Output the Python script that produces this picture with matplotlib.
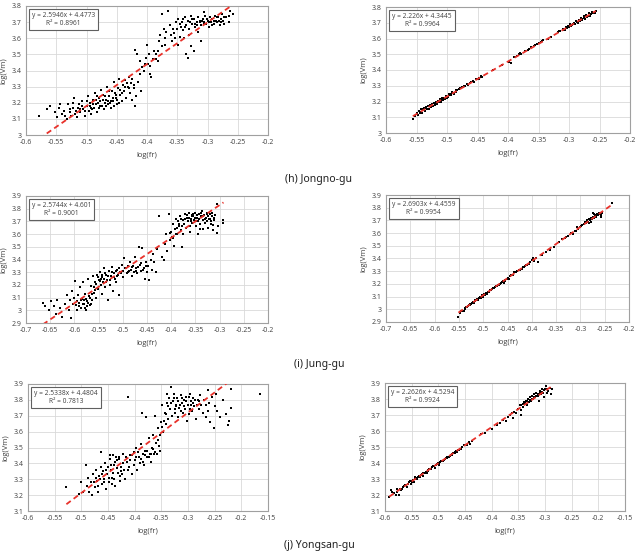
import numpy as np
import matplotlib
matplotlib.use("Agg")
import matplotlib.pyplot as plt

plt.rcParams['font.family'] = ['Open Sans', 'DejaVu Sans']

# (h) Jongno-gu, left panel: scattered points (log(fr), log(Vm))
jongno_a = [
    (-0.578, 3.12), (-0.565, 3.16), (-0.560, 3.18), (-0.552, 3.14), (-0.548, 3.11), (-0.545, 3.17),
    (-0.540, 3.13), (-0.537, 3.15), (-0.533, 3.10), (-0.530, 3.19), (-0.528, 3.14), (-0.525, 3.12),
    (-0.522, 3.17), (-0.520, 3.23), (-0.518, 3.15), (-0.515, 3.11), (-0.512, 3.19), (-0.510, 3.14),
    (-0.508, 3.21), (-0.505, 3.16), (-0.503, 3.12), (-0.500, 3.18), (-0.498, 3.24), (-0.496, 3.15),
    (-0.494, 3.20), (-0.492, 3.13), (-0.490, 3.22), (-0.488, 3.17), (-0.486, 3.26), (-0.484, 3.19),
    (-0.482, 3.14), (-0.480, 3.23), (-0.478, 3.21), (-0.476, 3.28), (-0.474, 3.18), (-0.472, 3.25),
    (-0.470, 3.20), (-0.468, 3.22), (-0.466, 3.30), (-0.464, 3.19), (-0.462, 3.24), (-0.460, 3.17),
    (-0.458, 3.27), (-0.456, 3.21), (-0.454, 3.33), (-0.452, 3.23), (-0.450, 3.19), (-0.448, 3.29),
    (-0.446, 3.35), (-0.444, 3.25), (-0.442, 3.21), (-0.440, 3.31), (-0.438, 3.27), (-0.436, 3.34),
    (-0.434, 3.23), (-0.432, 3.30), (-0.430, 3.36), (-0.428, 3.26), (-0.426, 3.32), (-0.424, 3.22),
    (-0.422, 3.29), (-0.420, 3.18), (-0.418, 3.24), (-0.415, 3.33), (-0.412, 3.38), (-0.410, 3.27),
    (-0.420, 3.53), (-0.416, 3.50), (-0.412, 3.46), (-0.408, 3.42), (-0.405, 3.40), (-0.402, 3.48),
    (-0.400, 3.56), (-0.398, 3.44), (-0.395, 3.38), (-0.393, 3.36), (-0.390, 3.47), (-0.388, 3.52),
    (-0.385, 3.50), (-0.382, 3.46), (-0.380, 3.58), (-0.378, 3.62), (-0.375, 3.55), (-0.372, 3.66),
    (-0.370, 3.60), (-0.375, 3.75), (-0.365, 3.77), (-0.368, 3.64), (-0.362, 3.68), (-0.358, 3.58),
    (-0.355, 3.63), (-0.352, 3.70), (-0.350, 3.66), (-0.348, 3.72), (-0.346, 3.61), (-0.344, 3.67),
    (-0.342, 3.70), (-0.340, 3.65), (-0.338, 3.73), (-0.336, 3.50), (-0.335, 3.68), (-0.333, 3.48),
    (-0.332, 3.71), (-0.330, 3.66), (-0.328, 3.74), (-0.327, 3.55), (-0.325, 3.69), (-0.323, 3.52),
    (-0.322, 3.72), (-0.320, 3.67), (-0.318, 3.70), (-0.316, 3.73), (-0.315, 3.64), (-0.312, 3.71),
    (-0.310, 3.68), (-0.308, 3.72), (-0.306, 3.70), (-0.304, 3.74), (-0.302, 3.69), (-0.300, 3.71),
    (-0.298, 3.67), (-0.296, 3.73), (-0.294, 3.70), (-0.292, 3.72), (-0.290, 3.69), (-0.288, 3.74),
    (-0.286, 3.71), (-0.284, 3.70), (-0.282, 3.73), (-0.280, 3.68), (-0.278, 3.72), (-0.276, 3.75),
    (-0.274, 3.71), (-0.272, 3.69), (-0.270, 3.73), (-0.265, 3.74), (-0.262, 3.77), (-0.258, 3.75),
    (-0.265, 3.70), (-0.310, 3.58), (-0.305, 3.76),
]
jongno_a_dense = [
    (-0.535, 3.12), (-0.527, 3.16), (-0.519, 3.13), (-0.514, 3.17), (-0.507, 3.18), (-0.502, 3.15),
    (-0.499, 3.21), (-0.493, 3.17), (-0.489, 3.19), (-0.485, 3.22), (-0.481, 3.20), (-0.477, 3.18),
    (-0.473, 3.22), (-0.469, 3.24), (-0.465, 3.21), (-0.461, 3.20), (-0.457, 3.23), (-0.453, 3.26),
    (-0.449, 3.22), (-0.445, 3.28), (-0.441, 3.26), (-0.437, 3.30), (-0.433, 3.32), (-0.429, 3.29),
    (-0.425, 3.35), (-0.421, 3.31), (-0.483, 3.24), (-0.479, 3.17), (-0.471, 3.16), (-0.463, 3.27),
    (-0.455, 3.18), (-0.447, 3.20), (-0.495, 3.18), (-0.511, 3.16), (-0.523, 3.20), (-0.543, 3.19),
    (-0.491, 3.16), (-0.467, 3.18), (-0.459, 3.21), (-0.451, 3.25),
    (-0.329, 3.70), (-0.325, 3.72), (-0.321, 3.69), (-0.317, 3.68), (-0.313, 3.70), (-0.309, 3.71),
    (-0.305, 3.69), (-0.301, 3.72), (-0.297, 3.70), (-0.293, 3.68), (-0.289, 3.71), (-0.285, 3.73),
    (-0.281, 3.71), (-0.277, 3.70), (-0.273, 3.73), (-0.345, 3.69), (-0.341, 3.72), (-0.337, 3.67),
    (-0.357, 3.66), (-0.361, 3.62), (-0.353, 3.60), (-0.349, 3.56), (-0.339, 3.60), (-0.331, 3.62),
    (-0.395, 3.43), (-0.403, 3.44), (-0.397, 3.50), (-0.385, 3.47), (-0.381, 3.52), (-0.371, 3.56),
]

# (h) Jongno-gu, right panel
jongno_b = [
    (-0.556, 3.09), (-0.552, 3.11), (-0.550, 3.13), (-0.548, 3.115), (-0.546, 3.14), (-0.545, 3.125),
    (-0.543, 3.15), (-0.541, 3.13), (-0.540, 3.145), (-0.538, 3.16), (-0.536, 3.14), (-0.535, 3.165),
    (-0.533, 3.15), (-0.531, 3.17), (-0.530, 3.155), (-0.528, 3.18), (-0.526, 3.165), (-0.525, 3.185),
    (-0.523, 3.17), (-0.521, 3.19), (-0.520, 3.18), (-0.518, 3.20), (-0.516, 3.185), (-0.515, 3.205),
    (-0.513, 3.195), (-0.511, 3.215), (-0.510, 3.20), (-0.508, 3.22), (-0.506, 3.21), (-0.505, 3.225),
    (-0.503, 3.215), (-0.501, 3.235), (-0.500, 3.225), (-0.497, 3.245), (-0.494, 3.24), (-0.491, 3.26),
    (-0.488, 3.25), (-0.485, 3.27), (-0.480, 3.28), (-0.476, 3.29), (-0.472, 3.30), (-0.468, 3.31),
    (-0.465, 3.305), (-0.462, 3.32), (-0.458, 3.33), (-0.455, 3.325), (-0.452, 3.345), (-0.448, 3.35),
    (-0.445, 3.36), (-0.442, 3.355), (-0.425, 3.40), (-0.410, 3.43), (-0.398, 3.45), (-0.395, 3.445),
    (-0.390, 3.48), (-0.386, 3.49), (-0.382, 3.50), (-0.378, 3.50), (-0.372, 3.52), (-0.368, 3.53),
    (-0.362, 3.545), (-0.358, 3.55), (-0.355, 3.56), (-0.350, 3.57), (-0.346, 3.575), (-0.342, 3.59),
    (-0.335, 3.595), (-0.330, 3.61), (-0.318, 3.64), (-0.314, 3.65), (-0.310, 3.66), (-0.307, 3.655),
    (-0.305, 3.67), (-0.302, 3.68), (-0.300, 3.67), (-0.298, 3.69), (-0.296, 3.68), (-0.294, 3.695),
    (-0.292, 3.70), (-0.290, 3.69), (-0.288, 3.71), (-0.286, 3.70), (-0.284, 3.715), (-0.282, 3.71),
    (-0.280, 3.73), (-0.278, 3.72), (-0.276, 3.74), (-0.274, 3.725), (-0.272, 3.75), (-0.270, 3.735),
    (-0.267, 3.76), (-0.265, 3.745), (-0.262, 3.77), (-0.258, 3.76),
]
jongno_b_dense = [
    (-0.549, 3.12), (-0.544, 3.135), (-0.539, 3.15), (-0.534, 3.16), (-0.529, 3.17), (-0.524, 3.175),
    (-0.519, 3.19), (-0.514, 3.20), (-0.509, 3.21), (-0.504, 3.22), (-0.499, 3.23), (-0.496, 3.24),
    (-0.493, 3.245), (-0.489, 3.255), (-0.486, 3.26), (-0.483, 3.27), (-0.478, 3.285), (-0.474, 3.295),
    (-0.470, 3.30), (-0.460, 3.325), (-0.450, 3.345), (-0.447, 3.345), (-0.444, 3.355), (-0.388, 3.48),
    (-0.380, 3.505), (-0.365, 3.535), (-0.352, 3.565), (-0.344, 3.585), (-0.316, 3.645), (-0.309, 3.655),
    (-0.303, 3.665), (-0.299, 3.68), (-0.295, 3.685), (-0.291, 3.695), (-0.287, 3.705), (-0.283, 3.71),
    (-0.279, 3.725), (-0.275, 3.73), (-0.271, 3.74), (-0.268, 3.745), (-0.264, 3.755), (-0.260, 3.765),
    (-0.256, 3.775),
]

# (i) Jung-gu, left panel
jung_a = [
    (-0.665, 3.06), (-0.660, 3.03), (-0.652, 3.00), (-0.648, 3.07), (-0.642, 3.03), (-0.638, 2.97),
    (-0.635, 3.08), (-0.630, 3.02), (-0.625, 2.95), (-0.620, 3.05), (-0.615, 3.12), (-0.612, 3.00),
    (-0.610, 3.08), (-0.607, 2.94), (-0.605, 3.15), (-0.602, 3.05), (-0.600, 3.10), (-0.598, 3.23),
    (-0.596, 3.04), (-0.594, 3.00), (-0.592, 3.12), (-0.590, 3.06), (-0.588, 3.18), (-0.586, 3.02),
    (-0.584, 3.09), (-0.582, 3.22), (-0.580, 3.05), (-0.578, 3.13), (-0.576, 3.00), (-0.574, 3.07),
    (-0.572, 3.25), (-0.570, 3.11), (-0.568, 3.04), (-0.566, 3.19), (-0.564, 3.08), (-0.562, 3.27),
    (-0.560, 3.14), (-0.558, 3.22), (-0.556, 3.10), (-0.554, 3.28), (-0.552, 3.17), (-0.550, 3.24),
    (-0.548, 3.30), (-0.546, 3.20), (-0.544, 3.13), (-0.542, 3.26), (-0.540, 3.22), (-0.538, 3.33),
    (-0.536, 3.18), (-0.534, 3.28), (-0.532, 3.24), (-0.530, 3.08), (-0.528, 3.31), (-0.526, 3.20),
    (-0.524, 3.27), (-0.522, 3.34), (-0.520, 3.15), (-0.518, 3.29), (-0.516, 3.25), (-0.514, 3.22),
    (-0.512, 3.32), (-0.510, 3.28), (-0.508, 3.12), (-0.505, 3.30), (-0.502, 3.36), (-0.500, 3.26),
    (-0.497, 3.41), (-0.495, 3.33), (-0.492, 3.29), (-0.490, 3.35), (-0.487, 3.31), (-0.485, 3.38),
    (-0.482, 3.27), (-0.480, 3.34), (-0.477, 3.30), (-0.475, 3.42), (-0.472, 3.33), (-0.470, 3.29),
    (-0.467, 3.50), (-0.465, 3.36), (-0.462, 3.31), (-0.460, 3.49), (-0.457, 3.33), (-0.455, 3.25),
    (-0.452, 3.38), (-0.450, 3.30), (-0.447, 3.35), (-0.445, 3.24), (-0.442, 3.40), (-0.440, 3.32),
    (-0.437, 3.44), (-0.435, 3.38), (-0.432, 3.30), (-0.430, 3.48), (-0.425, 3.74), (-0.420, 3.42),
    (-0.415, 3.40), (-0.412, 3.52), (-0.410, 3.60), (-0.408, 3.47), (-0.405, 3.76), (-0.402, 3.55),
    (-0.400, 3.62), (-0.398, 3.58), (-0.396, 3.68), (-0.394, 3.51), (-0.392, 3.64), (-0.390, 3.72),
    (-0.388, 3.60), (-0.386, 3.70), (-0.384, 3.66), (-0.382, 3.74), (-0.380, 3.63), (-0.378, 3.50),
    (-0.376, 3.71), (-0.374, 3.68), (-0.372, 3.76), (-0.370, 3.65), (-0.368, 3.73), (-0.366, 3.70),
    (-0.364, 3.77), (-0.362, 3.62), (-0.360, 3.72), (-0.358, 3.75), (-0.356, 3.69), (-0.354, 3.74),
    (-0.352, 3.71), (-0.350, 3.77), (-0.348, 3.66), (-0.346, 3.73), (-0.344, 3.70), (-0.342, 3.76),
    (-0.340, 3.68), (-0.338, 3.74), (-0.336, 3.78), (-0.334, 3.71), (-0.332, 3.75), (-0.330, 3.69),
    (-0.328, 3.73), (-0.326, 3.77), (-0.324, 3.65), (-0.322, 3.72), (-0.320, 3.76), (-0.318, 3.70),
    (-0.316, 3.74), (-0.314, 3.67), (-0.312, 3.71), (-0.310, 3.75), (-0.306, 3.84), (-0.305, 3.61),
    (-0.304, 3.66), (-0.293, 3.71), (-0.292, 3.69), (-0.335, 3.64), (-0.345, 3.60), (-0.375, 3.60),
]
jung_a_dense = [
    (-0.595, 3.07), (-0.591, 3.03), (-0.587, 3.08), (-0.583, 3.05), (-0.579, 3.02), (-0.575, 3.09),
    (-0.571, 3.06), (-0.567, 3.10), (-0.563, 3.13), (-0.559, 3.18), (-0.555, 3.21), (-0.551, 3.26),
    (-0.547, 3.23), (-0.543, 3.28), (-0.539, 3.25), (-0.535, 3.22), (-0.531, 3.27), (-0.527, 3.24),
    (-0.523, 3.30), (-0.519, 3.26), (-0.515, 3.31), (-0.511, 3.27), (-0.507, 3.33), (-0.503, 3.29),
    (-0.499, 3.31), (-0.493, 3.33), (-0.489, 3.30), (-0.483, 3.32), (-0.478, 3.35), (-0.473, 3.31),
    (-0.468, 3.34), (-0.463, 3.37), (-0.458, 3.32), (-0.453, 3.35), (-0.573, 3.03), (-0.581, 3.08),
    (-0.565, 3.05), (-0.557, 3.16), (-0.545, 3.25), (-0.537, 3.29),
    (-0.371, 3.72), (-0.367, 3.75), (-0.363, 3.73), (-0.359, 3.70), (-0.355, 3.76), (-0.351, 3.73),
    (-0.347, 3.75), (-0.343, 3.72), (-0.339, 3.77), (-0.335, 3.74), (-0.331, 3.72), (-0.327, 3.76),
    (-0.323, 3.74), (-0.319, 3.72), (-0.315, 3.77), (-0.311, 3.73), (-0.387, 3.65), (-0.383, 3.68),
    (-0.379, 3.72), (-0.391, 3.60), (-0.397, 3.57), (-0.403, 3.61), (-0.377, 3.66), (-0.361, 3.66),
    (-0.341, 3.64), (-0.325, 3.70), (-0.317, 3.68), (-0.313, 3.63), (-0.349, 3.70), (-0.357, 3.74),
]

# (i) Jung-gu, right panel
jung_b = [
    (-0.551, 2.94), (-0.548, 2.97), (-0.545, 2.99), (-0.540, 2.99), (-0.537, 3.01), (-0.533, 3.02),
    (-0.530, 3.03), (-0.527, 3.04), (-0.524, 3.05), (-0.521, 3.06), (-0.519, 3.05), (-0.516, 3.07),
    (-0.513, 3.08), (-0.511, 3.07), (-0.509, 3.09), (-0.507, 3.10), (-0.505, 3.09), (-0.503, 3.11),
    (-0.501, 3.10), (-0.499, 3.12), (-0.497, 3.11), (-0.495, 3.13), (-0.493, 3.12), (-0.491, 3.14),
    (-0.488, 3.14), (-0.485, 3.15), (-0.481, 3.16), (-0.477, 3.17), (-0.473, 3.18), (-0.469, 3.19),
    (-0.466, 3.20), (-0.463, 3.21), (-0.460, 3.22), (-0.458, 3.21), (-0.455, 3.23), (-0.452, 3.24),
    (-0.450, 3.25), (-0.447, 3.24), (-0.445, 3.26), (-0.442, 3.27), (-0.439, 3.27), (-0.436, 3.29),
    (-0.433, 3.29), (-0.430, 3.30), (-0.427, 3.31), (-0.424, 3.31), (-0.421, 3.32), (-0.418, 3.33),
    (-0.415, 3.34), (-0.412, 3.35), (-0.409, 3.35), (-0.406, 3.36), (-0.403, 3.37), (-0.400, 3.39),
    (-0.398, 3.40), (-0.395, 3.38), (-0.392, 3.40), (-0.388, 3.37), (-0.378, 3.43), (-0.370, 3.45),
    (-0.362, 3.47), (-0.355, 3.49), (-0.345, 3.53), (-0.338, 3.55), (-0.332, 3.56), (-0.325, 3.58),
    (-0.320, 3.60), (-0.316, 3.59), (-0.312, 3.62), (-0.308, 3.65), (-0.305, 3.63), (-0.300, 3.65),
    (-0.296, 3.66), (-0.292, 3.67), (-0.290, 3.69), (-0.288, 3.68), (-0.286, 3.70), (-0.284, 3.69),
    (-0.282, 3.71), (-0.280, 3.70), (-0.278, 3.72), (-0.276, 3.71), (-0.274, 3.73), (-0.272, 3.72),
    (-0.270, 3.74), (-0.268, 3.73), (-0.266, 3.75), (-0.264, 3.74), (-0.262, 3.76), (-0.260, 3.75),
    (-0.258, 3.73), (-0.256, 3.76), (-0.275, 3.76), (-0.282, 3.68), (-0.236, 3.84),
]
jung_b_dense = [
    (-0.543, 2.985), (-0.538, 3.00), (-0.535, 3.02), (-0.531, 3.025), (-0.528, 3.035), (-0.525, 3.04),
    (-0.522, 3.055), (-0.517, 3.065), (-0.514, 3.07), (-0.510, 3.085), (-0.506, 3.095), (-0.502, 3.105),
    (-0.498, 3.115), (-0.494, 3.125), (-0.490, 3.135), (-0.486, 3.15), (-0.483, 3.155), (-0.479, 3.165),
    (-0.475, 3.175), (-0.471, 3.185), (-0.467, 3.195), (-0.461, 3.215), (-0.456, 3.225), (-0.448, 3.25),
    (-0.440, 3.27), (-0.432, 3.295), (-0.425, 3.31), (-0.417, 3.335), (-0.410, 3.35), (-0.404, 3.37),
    (-0.330, 3.57), (-0.310, 3.62), (-0.298, 3.655), (-0.289, 3.685), (-0.285, 3.69), (-0.281, 3.705),
    (-0.277, 3.715), (-0.273, 3.72), (-0.269, 3.735), (-0.265, 3.74), (-0.261, 3.755), (-0.257, 3.745),
    (-0.279, 3.69), (-0.271, 3.75),
]

# (j) Yongsan-gu, left panel
yongsan_a = [
    (-0.528, 3.25), (-0.505, 3.21), (-0.500, 3.28), (-0.497, 3.22), (-0.492, 3.39), (-0.490, 3.26),
    (-0.487, 3.31), (-0.485, 3.22), (-0.482, 3.28), (-0.480, 3.20), (-0.478, 3.33), (-0.475, 3.25),
    (-0.472, 3.36), (-0.470, 3.29), (-0.468, 3.22), (-0.466, 3.32), (-0.464, 3.47), (-0.462, 3.27),
    (-0.460, 3.35), (-0.458, 3.30), (-0.456, 3.40), (-0.454, 3.24), (-0.452, 3.33), (-0.450, 3.38),
    (-0.448, 3.28), (-0.446, 3.43), (-0.444, 3.36), (-0.442, 3.31), (-0.440, 3.45), (-0.438, 3.39),
    (-0.436, 3.26), (-0.434, 3.42), (-0.432, 3.34), (-0.430, 3.44), (-0.428, 3.29), (-0.426, 3.38),
    (-0.424, 3.33), (-0.422, 3.46), (-0.420, 3.36), (-0.418, 3.30), (-0.415, 3.41), (-0.412, 3.82),
    (-0.410, 3.38), (-0.408, 3.45), (-0.405, 3.33), (-0.402, 3.47), (-0.400, 3.42), (-0.398, 3.50),
    (-0.395, 3.36), (-0.392, 3.44), (-0.390, 3.40), (-0.388, 3.52), (-0.386, 3.72), (-0.385, 3.46),
    (-0.382, 3.39), (-0.380, 3.48), (-0.378, 3.69), (-0.376, 3.44), (-0.374, 3.56), (-0.372, 3.46),
    (-0.370, 3.41), (-0.368, 3.50), (-0.366, 3.58), (-0.364, 3.46), (-0.362, 3.70), (-0.360, 3.53),
    (-0.358, 3.46), (-0.356, 3.62), (-0.354, 3.51), (-0.352, 3.48), (-0.350, 3.66), (-0.348, 3.77),
    (-0.346, 3.60), (-0.344, 3.72), (-0.342, 3.65), (-0.340, 3.78), (-0.338, 3.68), (-0.336, 3.81),
    (-0.334, 3.74), (-0.332, 3.88), (-0.330, 3.70), (-0.328, 3.79), (-0.326, 3.84), (-0.324, 3.72),
    (-0.322, 3.77), (-0.320, 3.81), (-0.318, 3.69), (-0.316, 3.75), (-0.314, 3.83), (-0.312, 3.78),
    (-0.310, 3.72), (-0.308, 3.80), (-0.306, 3.74), (-0.304, 3.82), (-0.302, 3.67), (-0.300, 3.77),
    (-0.298, 3.71), (-0.296, 3.84), (-0.294, 3.79), (-0.292, 3.73), (-0.290, 3.81), (-0.288, 3.76),
    (-0.285, 3.68), (-0.282, 3.80), (-0.280, 3.74), (-0.278, 3.83), (-0.275, 3.77), (-0.272, 3.72),
    (-0.270, 3.80), (-0.266, 3.69), (-0.262, 3.86), (-0.260, 3.78), (-0.258, 3.66), (-0.255, 3.82),
    (-0.252, 3.62), (-0.250, 3.76), (-0.248, 3.84), (-0.245, 3.73), (-0.240, 3.69), (-0.235, 3.80),
    (-0.228, 3.71), (-0.225, 3.64), (-0.223, 3.67), (-0.220, 3.87), (-0.220, 3.75), (-0.165, 3.84),
]
yongsan_a_dense = [
    (-0.477, 3.28), (-0.473, 3.31), (-0.469, 3.26), (-0.465, 3.30), (-0.461, 3.33), (-0.457, 3.28),
    (-0.453, 3.36), (-0.449, 3.31), (-0.445, 3.39), (-0.441, 3.34), (-0.437, 3.41), (-0.433, 3.37),
    (-0.429, 3.43), (-0.425, 3.35), (-0.421, 3.40), (-0.417, 3.44), (-0.413, 3.36), (-0.409, 3.42),
    (-0.405, 3.45), (-0.401, 3.39), (-0.397, 3.44), (-0.393, 3.47), (-0.389, 3.43), (-0.385, 3.41),
    (-0.381, 3.45), (-0.377, 3.48), (-0.373, 3.44), (-0.369, 3.46), (-0.365, 3.49), (-0.361, 3.47),
    (-0.439, 3.30), (-0.443, 3.27), (-0.447, 3.45), (-0.435, 3.44), (-0.427, 3.32), (-0.463, 3.38),
    (-0.331, 3.78), (-0.327, 3.81), (-0.323, 3.76), (-0.319, 3.79), (-0.315, 3.77), (-0.311, 3.81),
    (-0.307, 3.76), (-0.303, 3.79), (-0.299, 3.82), (-0.295, 3.77), (-0.291, 3.78), (-0.287, 3.80),
    (-0.283, 3.77), (-0.279, 3.79), (-0.313, 3.73), (-0.325, 3.74), (-0.337, 3.76), (-0.341, 3.71),
    (-0.345, 3.67), (-0.349, 3.63), (-0.353, 3.58), (-0.357, 3.55), (-0.339, 3.84), (-0.297, 3.74),
    (-0.267, 3.77), (-0.263, 3.73),
]

# (j) Yongsan-gu, right panel
yongsan_b = [
    (-0.592, 3.19), (-0.588, 3.23), (-0.584, 3.21), (-0.580, 3.20), (-0.577, 3.24), (-0.574, 3.20),
    (-0.570, 3.23), (-0.566, 3.25), (-0.562, 3.26), (-0.558, 3.25), (-0.555, 3.28), (-0.552, 3.27),
    (-0.549, 3.29), (-0.546, 3.28), (-0.543, 3.31), (-0.540, 3.30), (-0.537, 3.32), (-0.534, 3.31),
    (-0.531, 3.33), (-0.528, 3.32), (-0.525, 3.34), (-0.522, 3.34), (-0.519, 3.35), (-0.516, 3.36),
    (-0.513, 3.36), (-0.510, 3.38), (-0.507, 3.37), (-0.504, 3.39), (-0.501, 3.40), (-0.498, 3.39),
    (-0.495, 3.41), (-0.492, 3.41), (-0.489, 3.42), (-0.486, 3.43), (-0.483, 3.43), (-0.480, 3.44),
    (-0.477, 3.45), (-0.474, 3.45), (-0.471, 3.46), (-0.468, 3.47), (-0.465, 3.47), (-0.462, 3.48),
    (-0.458, 3.49), (-0.455, 3.50), (-0.451, 3.51), (-0.447, 3.51), (-0.443, 3.53), (-0.440, 3.52),
    (-0.436, 3.54), (-0.420, 3.58), (-0.412, 3.59), (-0.400, 3.61), (-0.390, 3.64), (-0.385, 3.65),
    (-0.378, 3.67), (-0.374, 3.66), (-0.370, 3.69), (-0.366, 3.70), (-0.362, 3.71), (-0.358, 3.72),
    (-0.354, 3.71), (-0.350, 3.74), (-0.347, 3.76), (-0.345, 3.73), (-0.342, 3.75), (-0.340, 3.78),
    (-0.338, 3.77), (-0.336, 3.79), (-0.334, 3.76), (-0.332, 3.80), (-0.330, 3.78), (-0.328, 3.81),
    (-0.326, 3.79), (-0.324, 3.82), (-0.322, 3.80), (-0.320, 3.83), (-0.318, 3.81), (-0.316, 3.84),
    (-0.314, 3.82), (-0.312, 3.79), (-0.310, 3.85), (-0.308, 3.83), (-0.306, 3.86), (-0.304, 3.84),
    (-0.302, 3.81), (-0.300, 3.86), (-0.298, 3.88), (-0.296, 3.84), (-0.294, 3.85), (-0.290, 3.87),
    (-0.288, 3.83), (-0.286, 3.86), (-0.345, 3.70), (-0.360, 3.68),
]
yongsan_b_dense = [
    (-0.586, 3.22), (-0.578, 3.22), (-0.572, 3.24), (-0.568, 3.24), (-0.564, 3.255), (-0.560, 3.265),
    (-0.556, 3.27), (-0.553, 3.285), (-0.550, 3.28), (-0.547, 3.295), (-0.544, 3.30), (-0.541, 3.305),
    (-0.538, 3.315), (-0.535, 3.32), (-0.532, 3.325), (-0.529, 3.335), (-0.526, 3.34), (-0.523, 3.345),
    (-0.520, 3.355), (-0.517, 3.36), (-0.514, 3.365), (-0.511, 3.375), (-0.508, 3.38), (-0.505, 3.385),
    (-0.502, 3.395), (-0.499, 3.40), (-0.496, 3.405), (-0.493, 3.415), (-0.490, 3.42), (-0.487, 3.425),
    (-0.484, 3.435), (-0.481, 3.44), (-0.478, 3.445), (-0.475, 3.455), (-0.472, 3.46), (-0.469, 3.465),
    (-0.466, 3.475), (-0.463, 3.48), (-0.460, 3.485), (-0.345, 3.76), (-0.341, 3.77), (-0.337, 3.78),
    (-0.333, 3.785), (-0.329, 3.795), (-0.325, 3.80), (-0.321, 3.81), (-0.317, 3.82), (-0.313, 3.83),
    (-0.309, 3.84), (-0.305, 3.845), (-0.301, 3.855), (-0.297, 3.86),
]

# trendline coefficients (slope, intercept, R²) as printed on each chart
fits = [(2.5946, 4.4773, "0.8961"), (2.226, 4.3445, "0.9964"),
        (2.5744, 4.601, "0.9001"), (2.6903, 4.4559, "0.9954"),
        (2.5338, 4.4804, "0.7813"), (2.2626, 4.5294, "0.9924")]

panels = [jongno_a + jongno_a_dense, jongno_b + jongno_b_dense,
          jung_a + jung_a_dense, jung_b + jung_b_dense,
          yongsan_a + yongsan_a_dense, yongsan_b + yongsan_b_dense]
captions = ["(h) Jongno-gu", "(i) Jung-gu", "(j) Yongsan-gu"]

xlims = [(-0.6, -0.2), (-0.6, -0.2), (-0.7, -0.2), (-0.7, -0.2), (-0.6, -0.15), (-0.6, -0.15)]
ylims = [(3.0, 3.8), (3.0, 3.8), (2.9, 3.9), (2.9, 3.9), (3.1, 3.9), (3.1, 3.9)]

# axes boxes in pixels: left, right, top, bottom
boxes = [(26, 268, 6, 135), (386, 630, 7, 133),
         (26, 268, 196, 323), (386, 629, 195, 322),
         (28, 268, 384, 511), (385, 625, 383, 511)]

W, H = 637, 553
fig = plt.figure(figsize=(W / 100, H / 100), dpi=100)

for i, pts in enumerate(panels):
    l, r, t, b = boxes[i]
    ax = fig.add_axes([l / W, 1 - b / H, (r - l) / W, (b - t) / H])
    xs = np.array([p[0] for p in pts])
    ys = np.array([p[1] for p in pts])

    ax.scatter(xs, ys, s=2.8, c='black', marker='s', linewidths=0, zorder=3)

    m, c0, r2 = fits[i]
    lx = np.array([xs.min(), xs.max()])
    ax.plot(lx, m * lx + c0, color='#e8312a', lw=1.3, dashes=(3, 2), zorder=4)

    ax.set_xlim(*xlims[i])
    ax.set_ylim(*ylims[i])
    xt = np.round(np.arange(xlims[i][0], xlims[i][1] + 0.001, 0.05), 2)
    yt = np.round(np.arange(ylims[i][0], ylims[i][1] + 0.001, 0.1), 1)
    ax.set_xticks(xt)
    ax.set_yticks(yt)
    ax.set_xticklabels(['%g' % v for v in xt])
    ax.set_yticklabels(['%g' % v for v in yt])
    ax.tick_params(length=0, labelsize=5, pad=3, colors='#404040')
    ax.grid(color='#d9d9d9', lw=0.6)
    ax.set_axisbelow(True)
    for s in ax.spines.values():
        s.set_color('#a0a0a0')
        s.set_linewidth(0.8)
    ax.set_xlabel('log(fr)', fontsize=5.5, color='#404040', labelpad=4)
    ax.set_ylabel('log(Vm)', fontsize=5.5, color='#404040', labelpad=3)

    eq = 'y = %gx + %g\nR² = %s' % (m, c0, r2)
    ax.text(0.025, 0.955, eq, transform=ax.transAxes, ha='left', va='top',
            fontsize=4.8, color='#404040', multialignment='center', zorder=5,
            linespacing=1.3,
            bbox=dict(boxstyle='square,pad=0.45', fc='white', ec='#606060', lw=0.8))

cap_y = [179, 365, 540]
for k, txt in enumerate(captions):
    va = 'top' if k == 2 else 'center'
    fig.text(319 / W, 1 - cap_y[k] / H, txt, ha='center', va=va, fontsize=7.5,
             family=['Noto Sans', 'DejaVu Sans'], color='#202020')

plt.savefig('out.png', dpi=100)
